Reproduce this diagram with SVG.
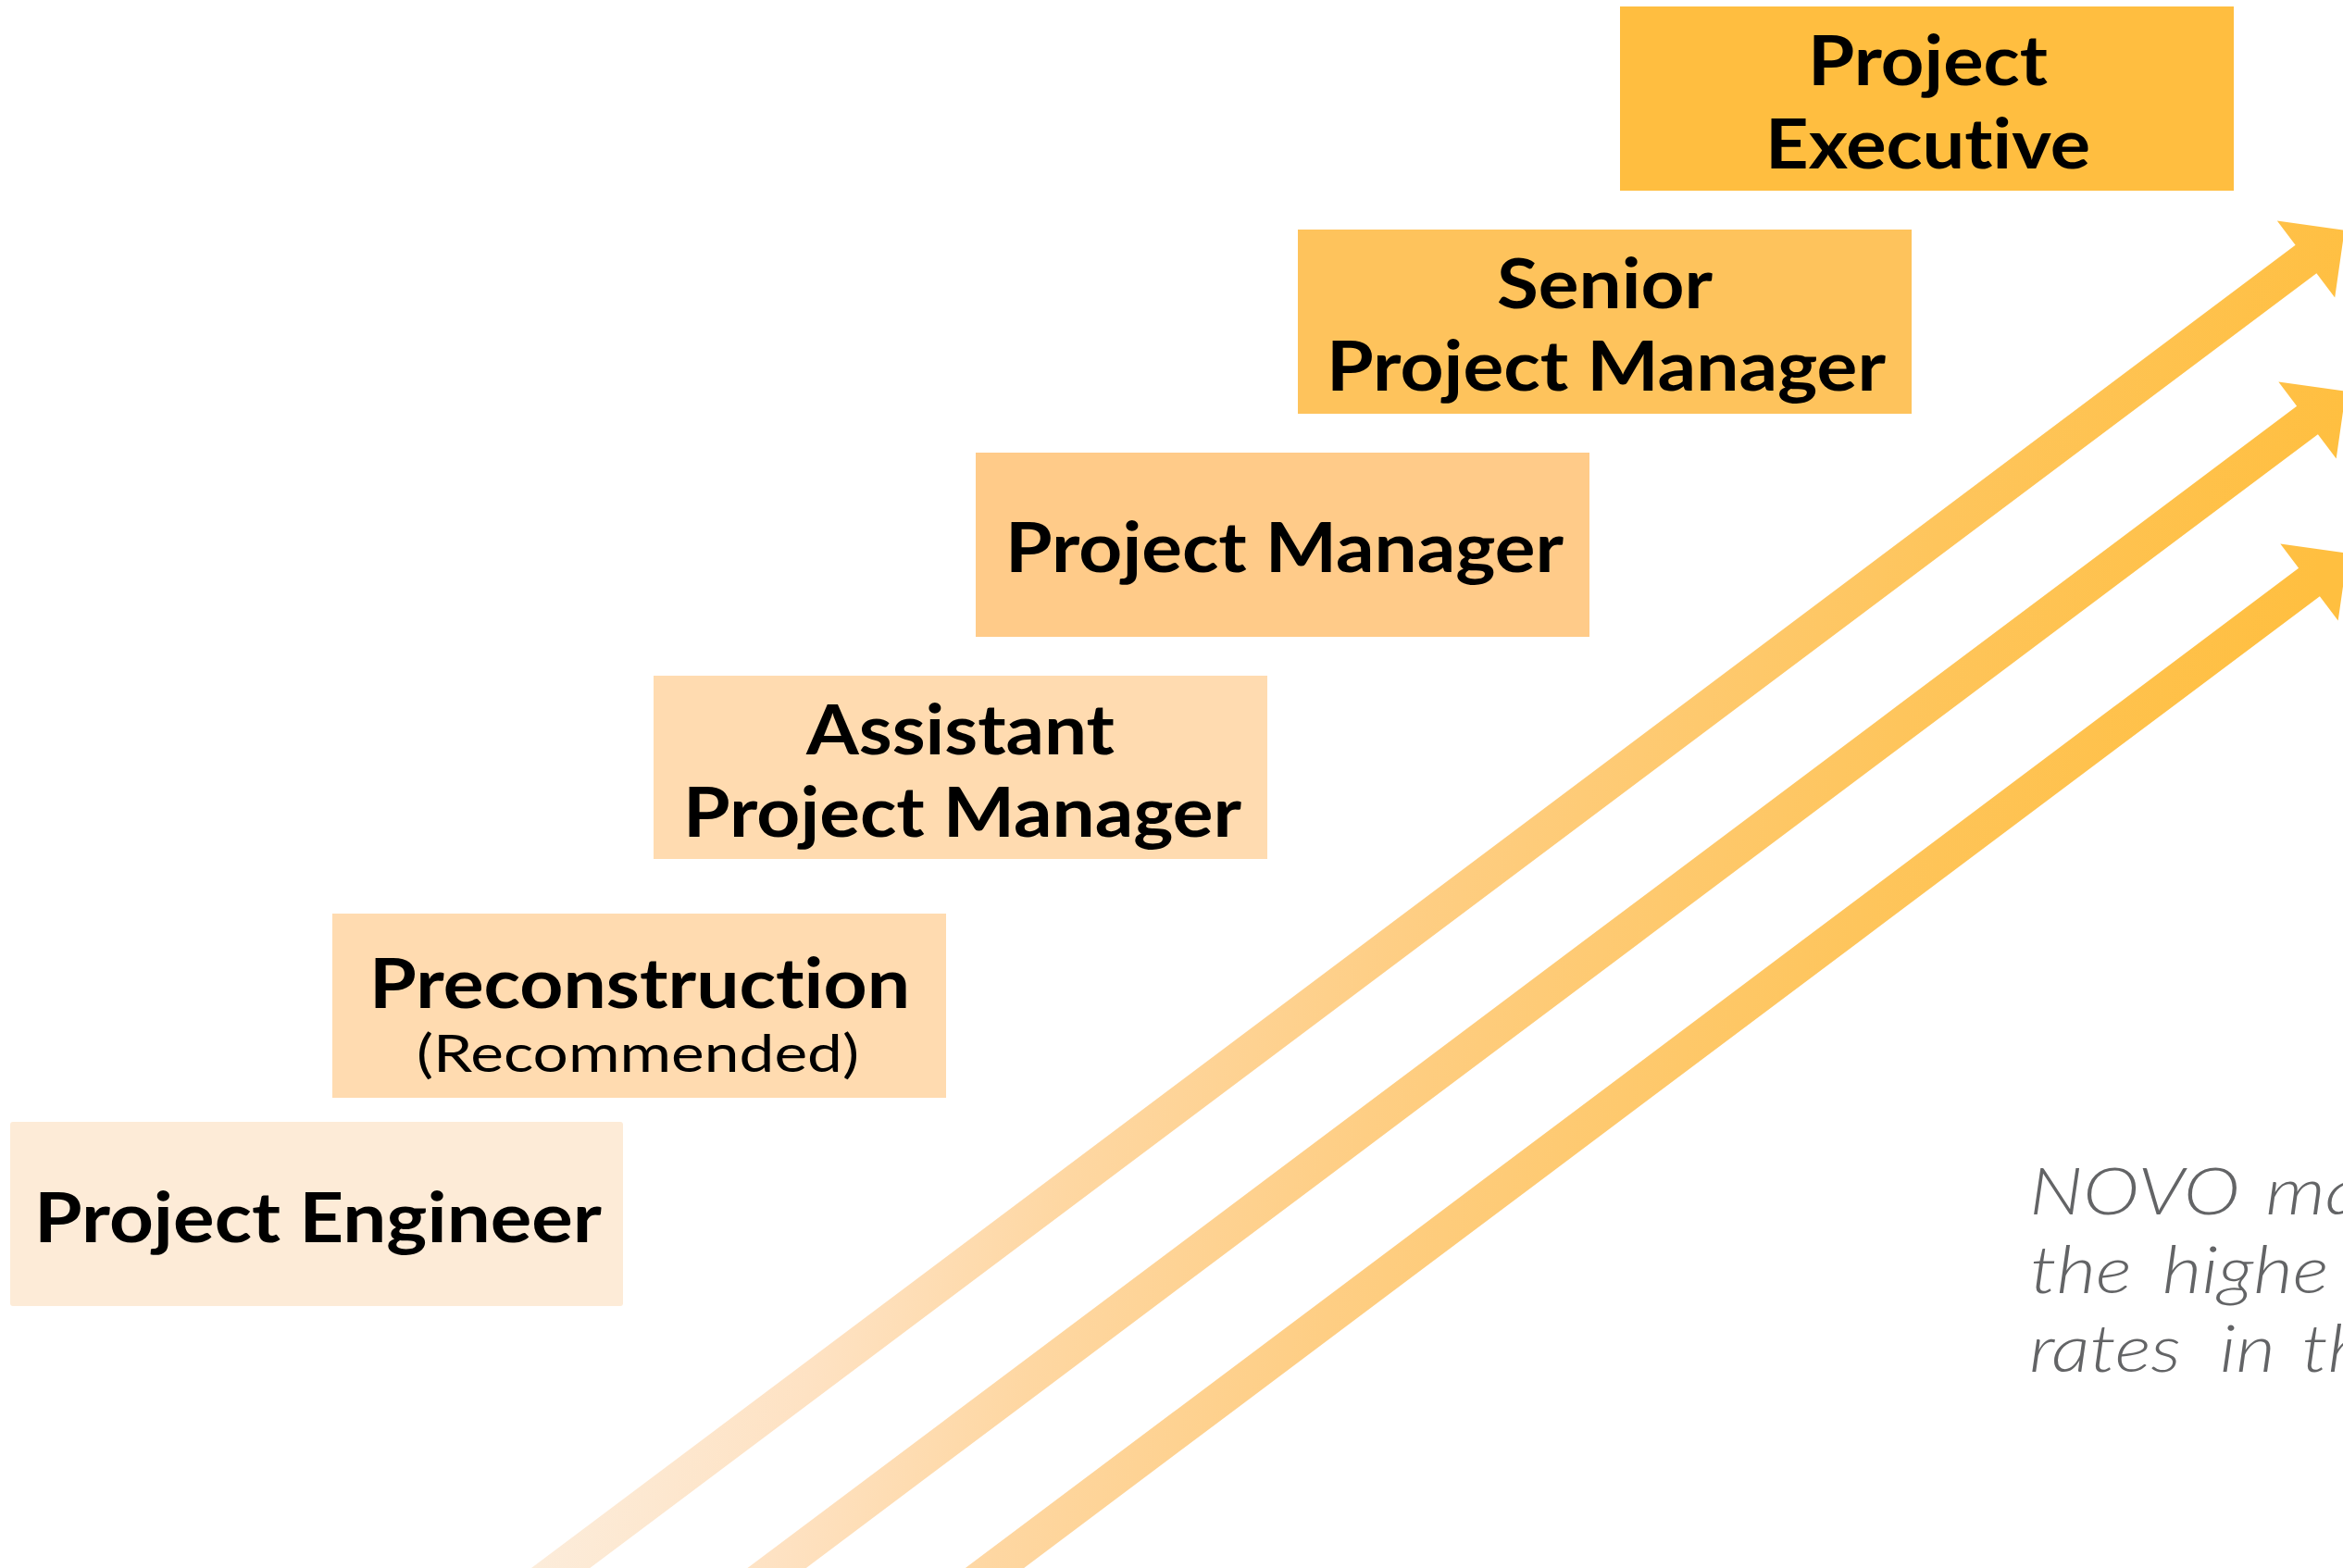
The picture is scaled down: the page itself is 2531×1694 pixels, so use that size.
<svg xmlns="http://www.w3.org/2000/svg" width="2531" height="1694" viewBox="0 0 2531 1694">
<defs>
<linearGradient id="arrowGrad" gradientUnits="userSpaceOnUse" x1="560" y1="1694" x2="2310" y2="2044">
<stop offset="0" stop-color="#FCEDDC"/>
<stop offset="0.15" stop-color="#FEE2C3"/>
<stop offset="0.28" stop-color="#FED7A2"/>
<stop offset="0.45" stop-color="#FECE84"/>
<stop offset="0.72" stop-color="#FEC55C"/>
<stop offset="0.95" stop-color="#FFBF40"/>
</linearGradient>
<style>
text{font-variant-ligatures:none;font-feature-settings:"liga" 0,"dlig" 0}
.lbl{font-family:Lato,"Liberation Sans",sans-serif;font-weight:700;font-size:74px;fill:#000}
.sub{font-family:Lato,"Liberation Sans",sans-serif;font-weight:400;font-size:56px;fill:#000}
.note{font-family:Lato,"Liberation Sans",sans-serif;font-weight:300;font-style:italic;font-size:72px;fill:#636466}
.arrow{fill:url(#arrowGrad)}
</style>
</defs>
<rect width="2531" height="1694" fill="#fff"/>
<g id="connectors">
<polygon class="arrow" points="559.6,1704.8 2479.6,264.8 2459.8,238.4 2532.6,248.8 2522.2,321.6 2502.4,295.2 582.4,1735.2"/>
<polygon class="arrow" points="721.1,1758.8 2481.1,438.8 2461.3,412.4 2534.1,422.8 2523.7,495.6 2503.9,469.2 743.9,1789.2"/>
<polygon class="arrow" points="963.1,1753.8 2483.1,613.8 2463.3,587.4 2536.1,597.8 2525.7,670.6 2505.9,644.2 985.9,1784.2"/>
</g>
<g id="project-executive">
<rect x="1750" y="7" width="663" height="199" fill="#FFBE40"/>
<text class="lbl" x="1953" y="92" textLength="259" lengthAdjust="spacingAndGlyphs">Project</text>
<text class="lbl" x="1907" y="182" textLength="351" lengthAdjust="spacingAndGlyphs">Executive</text>
</g>
<g id="senior-project-manager">
<rect x="1402" y="248" width="663" height="199" fill="#FEC35C"/>
<text class="lbl" x="1617" y="333" textLength="233" lengthAdjust="spacingAndGlyphs">Senior</text>
<text class="lbl" x="1433" y="422" textLength="604" lengthAdjust="spacingAndGlyphs">Project Manager</text>
</g>
<g id="project-manager">
<rect x="1054" y="489" width="663" height="199" fill="#FFCB89"/>
<text class="lbl" x="1086" y="618" textLength="603" lengthAdjust="spacingAndGlyphs">Project Manager</text>
</g>
<g id="assistant-project-manager">
<rect x="706" y="730" width="663" height="198" fill="#FFDBB0"/>
<text class="lbl" x="871" y="815" textLength="333" lengthAdjust="spacingAndGlyphs">Assistant</text>
<text class="lbl" x="738" y="904" textLength="603" lengthAdjust="spacingAndGlyphs">Project Manager</text>
</g>
<g id="preconstruction">
<rect x="359" y="987" width="663" height="199" fill="#FFDBB0"/>
<text class="lbl" x="399" y="1089" textLength="584" lengthAdjust="spacingAndGlyphs">Preconstruction</text>
<text class="sub" x="450" y="1158" textLength="478" lengthAdjust="spacingAndGlyphs">(Recommended)</text>
</g>
<g id="project-engineer">
<rect x="11" y="1212" width="662" height="199" rx="3" fill="#FDEBD7"/>
<text class="lbl" x="37" y="1342" textLength="613" lengthAdjust="spacingAndGlyphs">Project Engineer</text>
</g>
<g id="note" transform="translate(2192,0) scale(1.15,1) translate(-2192,0)">
<text class="note" y="1312"><tspan x="2192">NOVO</tspan> <tspan x="2414">ma</tspan></text>
<text class="note" y="1397"><tspan x="2193">the</tspan> <tspan x="2317">highe</tspan></text>
<text class="note" y="1482"><tspan x="2192">rates</tspan> <tspan x="2371">in</tspan> <tspan x="2448">th</tspan></text>
</g>
</svg>
